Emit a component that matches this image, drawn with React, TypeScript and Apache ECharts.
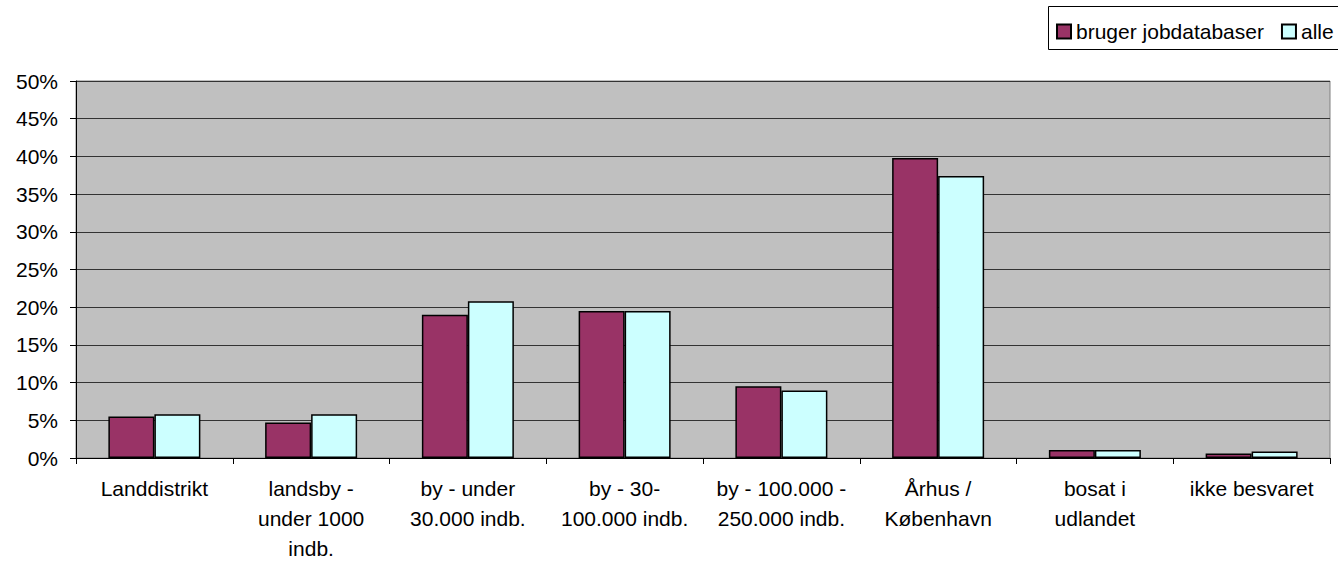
import React, { useEffect, useRef } from "react";
import * as echarts from "echarts";

const categories = [
  "Landdistrikt",
  "landsby -\nunder 1000\nindb.",
  "by - under\n30.000 indb.",
  "by - 30-\n100.000 indb.",
  "by - 100.000 -\n250.000 indb.",
  "Århus /\nKøbenhavn",
  "bosat i\nudlandet",
  "ikke besvaret",
];
const brugerJobdatabaser = [5.5, 4.7, 19.0, 19.5, 9.5, 39.8, 1.05, 0.6];
const alle = [5.8, 5.8, 20.8, 19.5, 8.95, 37.4, 1.05, 0.85];
const seriesNames = ["bruger jobdatabaser", "alle"];

const FONT = "'Liberation Sans', Arial, sans-serif";

export default function App() {
  const ref = useRef<HTMLDivElement>(null);
  useEffect(() => {
    if (!ref.current) return;
    const chart = echarts.init(ref.current, null, { renderer: "svg" });
    chart.setOption({
      animation: false,
      backgroundColor: "#ffffff",
      textStyle: { fontFamily: FONT },
      grid: {
        left: 76,
        right: 8,
        top: 81,
        bottom: 102,
        show: true,
        backgroundColor: "#c0c0c0",
        borderColor: "#808080",
        borderWidth: 1,
      },
      graphic: [
        {
          type: "rect",
          shape: { x: 1048.5, y: 6.5, width: 300, height: 43 },
          style: { fill: "#ffffff", stroke: "#000000", lineWidth: 1 },
          z: 0,
        },
      ],
      legend: {
        orient: "horizontal",
        left: 1051,
        top: 16,
        width: 400,
        padding: 5,
        itemWidth: 14,
        itemHeight: 14,
        itemGap: 17,
        z: 10,
        textStyle: { fontFamily: FONT, fontSize: 21, color: "#000" },
        data: seriesNames.map((n) => ({ name: n, icon: "rect" })),
      },
      xAxis: {
        type: "category",
        data: categories,
        boundaryGap: true,
        axisLine: { show: true, lineStyle: { color: "#000", width: 1 } },
        axisTick: { show: true, length: 6, lineStyle: { color: "#000" } },
        axisLabel: {
          interval: 0,
          fontFamily: FONT,
          fontSize: 21,
          color: "#000",
          lineHeight: 30,
          margin: 15,
        },
        splitLine: { show: false },
      },
      yAxis: {
        type: "value",
        min: 0,
        max: 50,
        interval: 5,
        axisLine: { show: true, lineStyle: { color: "#000", width: 1 } },
        axisTick: { show: true, length: 6, lineStyle: { color: "#000" } },
        axisLabel: {
          formatter: "{value}%",
          fontFamily: FONT,
          fontSize: 21,
          color: "#000",
          margin: 18,
        },
        splitLine: { show: true, lineStyle: { color: "#333333", width: 1 } },
      },
      series: [
        {
          name: seriesNames[0],
          type: "bar",
          data: brugerJobdatabaser,
          barWidth: 46,
          barGap: "0%",
          itemStyle: { color: "#993366", borderColor: "#000", borderWidth: 1.5 },
        },
        {
          name: seriesNames[1],
          type: "bar",
          data: alle,
          barWidth: 46,
          barGap: "0%",
          itemStyle: { color: "#ccffff", borderColor: "#000", borderWidth: 1.5 },
        },
      ],
    });
    return () => chart.dispose();
  }, []);
  return (
    <div
      ref={ref}
      style={{ position: "absolute", left: 0, top: 0, width: 1338, height: 563 }}
    />
  );
}
